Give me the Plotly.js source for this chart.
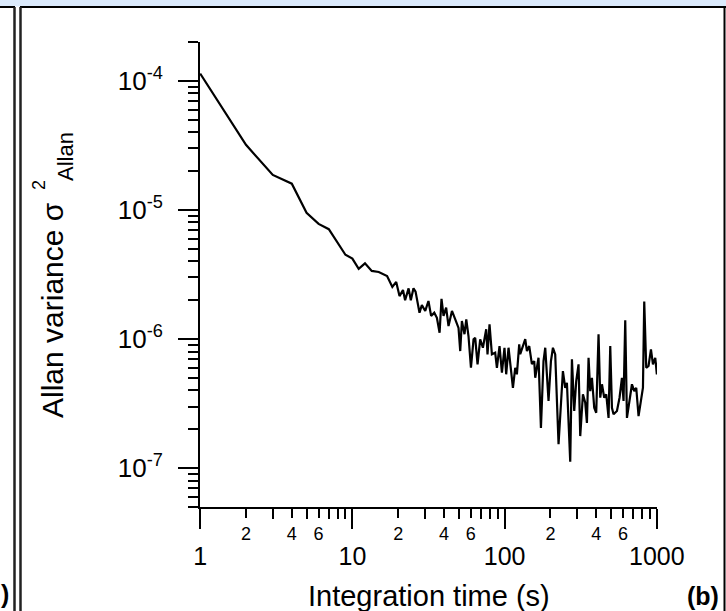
<!DOCTYPE html>
<html>
<head>
<meta charset="utf-8">
<script src="https://cdn.plot.ly/plotly-3.0.1.min.js"></script>
<style>
html,body{margin:0;padding:0;background:#fff;}
#chart{width:726px;height:611px;}
</style>
</head>
<body>
<div id="chart"></div>
<script>
// Integration time (s)
const tau = [1,2,3,4,5,6,7,8,9,10,11,12.1,13.4,14.9,16.9,18.3,19.4,20.4,21.5,22.2,23.4,24.2,25.2,26.0,27.6,28.6,30.1,31.6,32.9,34.5,35.9,37.4,38.5,39.7,41.3,42.8,45.1,47.4,49.8,51.1,52.4,54.5,56.0,57.9,60.1,62.5,64.1,66.4,69.1,72.0,73.5,75.7,77.2,79.6,82.5,86.7,89.0,92.6,96.0,99.8,102.4,106.1,110.0,113.4,117.4,120.4,124.7,126.6,136.6,140.1,145.1,151.1,156.5,158.9,167.0,173.2,180.1,184.9,194.3,201.5,207.7,215.0,226.1,234.4,241.5,250.1,256.6,269.8,276.8,286.6,295.4,305.9,313.9,326.9,338.5,347.3,355.9,365.1,374.6,387.9,399.7,414.0,424.8,435.9,451.3,465.2,481.7,494.2,507.0,519.4,546.8,568.7,589.8,604.2,620.0,636.1,661.6,686.1,710.4,732.2,758.2,786.1,810.4,826.4,851.9,882.1,914.6,942.8,976.1,1000,1010];
// Allan variance sigma^2_Allan
const allanVar = [1.14e-4,3.2e-5,1.87e-5,1.6e-5,9.5e-6,7.8e-6,7.1e-6,5.6e-6,4.5e-6,4.2e-6,3.5e-6,3.86e-6,3.37e-6,3.31e-6,3.08e-6,2.53e-6,2.77e-6,2.15e-6,2.40e-6,2.0e-6,2.47e-6,2.0e-6,2.47e-6,2.33e-6,1.60e-6,1.83e-6,1.65e-6,1.97e-6,1.51e-6,1.60e-6,1.46e-6,1.12e-6,2.05e-6,1.51e-6,1.75e-6,1.26e-6,1.65e-6,1.42e-6,1.22e-6,8.07e-7,1.38e-6,1.09e-6,1.42e-6,1.055e-6,5.99e-7,9.95e-7,1.02e-6,6.37e-7,9.95e-7,8.56e-7,9.65e-7,1.19e-6,7.61e-7,1.30e-6,7.61e-7,7.83e-7,5.99e-7,8.82e-7,5.48e-7,8.56e-7,5.33e-7,8.56e-7,5.82e-7,4.19e-7,5.99e-7,5.33e-7,9.1e-7,7.65e-7,1.0e-6,8.07e-7,8.82e-7,6.40e-7,6.75e-7,5.01e-7,7.16e-7,2.05e-7,6.75e-7,8.56e-7,3.31e-7,6.75e-7,8.56e-7,7.61e-7,1.53e-7,2.93e-7,5.65e-7,4.19e-7,4.58e-7,1.12e-7,6.96e-7,2.77e-7,4.73e-7,6.37e-7,1.77e-7,3.73e-7,3.21e-7,2.24e-7,7.16e-7,3.95e-7,5.01e-7,2.93e-7,2.68e-7,1.09e-6,3.51e-7,4.46e-7,3.51e-7,3.73e-7,2.45e-7,8.82e-7,2.93e-7,2.61e-7,2.77e-7,3.51e-7,5.01e-7,3.31e-7,1.40e-6,2.45e-7,3.51e-7,4.46e-7,3.95e-7,4.19e-7,2.53e-7,3.51e-7,4.19e-7,1.95e-6,5.99e-7,6.18e-7,8.32e-7,6.37e-7,7.16e-7,5.33e-7,6.55e-7];

// Tick labels
const xMajorVals = [1,10,100,1000];
const xMajorText = ['1','10','100','1000'];
const xMinorLabelVals = [2,4,6,20,40,60,200,400,600];
const xMinorLabelText = ['2','4','6','2','4','6','2','4','6'];
const yMajorVals = [1e-7,1e-6,1e-5,1e-4];
const yMajorText = ['10<sup>-7</sup>','10<sup>-6</sup>','10<sup>-5</sup>','10<sup>-4</sup>'];

// minor tick positions (unlabelled)
const xMinorVals = [];
for (let e = 0; e < 3; e++) for (const m of [3,5,7,8,9]) xMinorVals.push(m*Math.pow(10,e));
const yMinorVals = [];
for (let e = -8; e <= -4; e++) for (let m = 2; m <= 9; m++) {
  const v = m*Math.pow(10,e);
  if (v >= 4.99e-8 && v <= 2.01e-4) yMinorVals.push(v);
}

const FONT = 'Liberation Sans, Arial, sans-serif';
const L = 200, R = 657, T = 42, B = 507;
const px = x => (x - L)/(R - L);
const py = y => (B - y)/(B - T);

const traces = [
  {x: tau, y: allanVar, type: 'scatter', mode: 'lines', xaxis: 'x', yaxis: 'y',
   line: {color: 'black', width: 2.2}, hoverinfo: 'x+y', showlegend: false},
  {x: tau, y: allanVar, type: 'scatter', mode: 'lines', xaxis: 'x2', yaxis: 'y',
   line: {color: 'rgba(0,0,0,0)', width: 0}, hoverinfo: 'skip', showlegend: false}
];

const lineShape = (x0,y0,x1,y1,color,w) => ({type:'line', xref:'paper', yref:'paper',
  x0:px(x0), y0:py(y0), x1:px(x1), y1:py(y1), line:{color:color, width:w}, layer:'above'});

const layout = {
  width: 726, height: 611,
  margin: {l: L, r: 726 - R, t: T, b: 611 - B},
  paper_bgcolor: 'white', plot_bgcolor: 'white',
  font: {family: FONT, color: 'black'},
  showlegend: false,
  xaxis: {
    type: 'log', range: [-0.001, 3.001],
    showline: true, linecolor: 'black', linewidth: 2,
    ticks: 'outside', ticklen: 20, tickwidth: 2, tickcolor: 'black',
    tickmode: 'array', tickvals: xMajorVals, ticktext: xMajorText,
    tickfont: {size: 25, family: FONT, color: 'black'},
    ticklabelstandoff: 6,
    showgrid: false, zeroline: false, fixedrange: true,
    minor: {tickmode: 'array', tickvals: xMinorVals, ticks: 'outside', ticklen: 10, tickwidth: 2, tickcolor: 'black', showgrid: false}
  },
  xaxis2: {
    type: 'log', range: [-0.001, 3.001], overlaying: 'x', anchor: 'y', side: 'bottom',
    showline: false, ticks: 'outside', ticklen: 10, tickwidth: 2, tickcolor: 'black',
    tickmode: 'array', tickvals: xMinorLabelVals, ticktext: xMinorLabelText,
    tickfont: {size: 18, family: FONT, color: 'black'},
    ticklabelstandoff: 0,
    showgrid: false, zeroline: false, fixedrange: true
  },
  yaxis: {
    type: 'log', range: [Math.log10(5e-8) - 0.0005, Math.log10(2e-4) + 0.0005],
    showline: true, linecolor: 'black', linewidth: 2,
    ticks: 'outside', ticklen: 20, tickwidth: 2, tickcolor: 'black',
    tickmode: 'array', tickvals: yMajorVals, ticktext: yMajorText,
    tickfont: {size: 26, family: FONT, color: 'black'},
    ticklabelstandoff: 10,
    showgrid: false, zeroline: false, fixedrange: true,
    minor: {tickmode: 'array', tickvals: yMinorVals, ticks: 'outside', ticklen: 10, tickwidth: 2, tickcolor: 'black', showgrid: false}
  },
  shapes: [
    {type:'rect', xref:'paper', yref:'paper', x0:px(-2), x1:px(728), y0:py(-2), y1:py(6.5),
     fillcolor:'rgb(219,234,252)', line:{width:0}, layer:'above'},
    lineShape(0, 7, 15, 7, 'black', 2),
    lineShape(20, 7, 726, 7, 'black', 2),
    lineShape(14.5, 7, 14.5, 611, '#222', 2.5),
    lineShape(20.5, 7, 20.5, 611, '#222', 2.5),
    lineShape(724.5, 7, 724.5, 611, 'black', 2)
  ],
  annotations: [
    {xref:'paper', yref:'paper', x:px(429), y:py(596), text:'Integration time (s)', showarrow:false,
     xanchor:'center', yanchor:'middle', font:{size:29, family:FONT, color:'black'}},
    {xref:'paper', yref:'paper', x:px(52), y:py(310), text:'Allan variance σ', textangle:-90, showarrow:false,
     xanchor:'center', yanchor:'middle', font:{size:30, family:FONT, color:'black'}},
    {xref:'paper', yref:'paper', x:px(39), y:py(185), text:'2', textangle:-90, showarrow:false,
     xanchor:'center', yanchor:'middle', font:{size:18, family:FONT, color:'black'}},
    {xref:'paper', yref:'paper', x:px(65), y:py(157), text:'Allan', textangle:-90, showarrow:false,
     xanchor:'center', yanchor:'middle', font:{size:22, family:FONT, color:'black'}},
    {xref:'paper', yref:'paper', x:px(703), y:py(596), text:'<b>(b)</b>', showarrow:false,
     xanchor:'center', yanchor:'middle', font:{size:25, family:FONT, color:'black'}},
    {xref:'paper', yref:'paper', x:px(11), y:py(594), text:'<b>)</b>', showarrow:false,
     xanchor:'right', yanchor:'middle', font:{size:25, family:FONT, color:'black'}}
  ]
};

Plotly.newPlot('chart', traces, layout, {displayModeBar: false, staticPlot: true});
</script>
</body>
</html>
